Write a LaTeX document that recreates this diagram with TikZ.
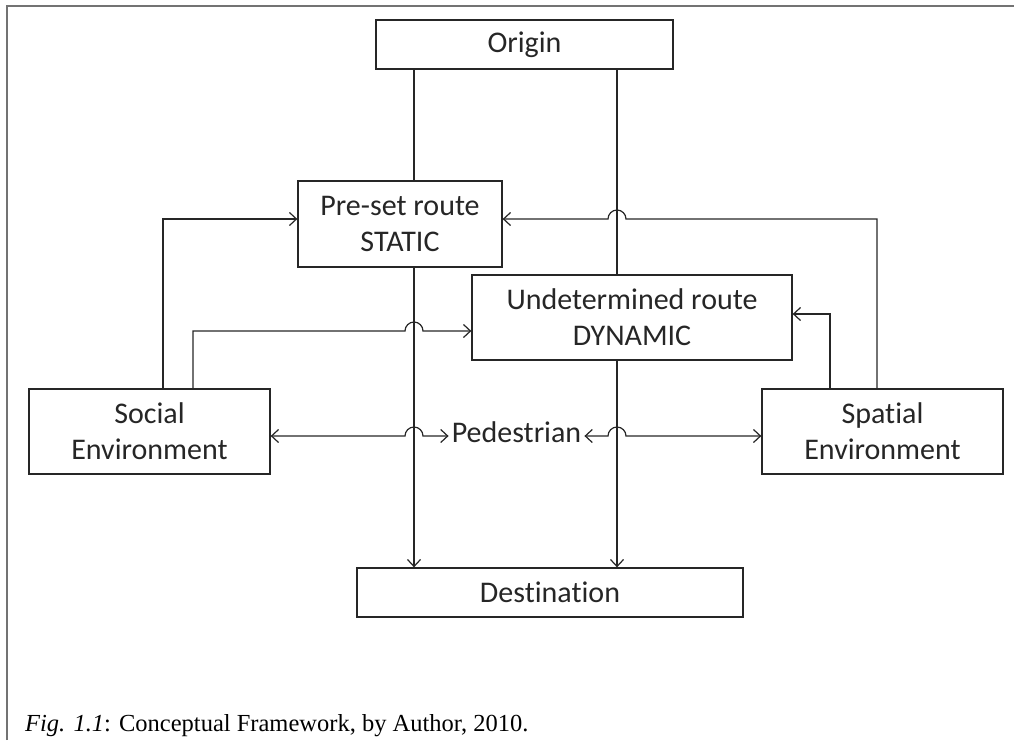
\documentclass[tikz,border=0pt]{standalone}
\usepackage{fontspec}
\setmainfont[Ligatures={NoCommon}]{Carlito}
\newfontfamily\capfont{Liberation Serif}
\usetikzlibrary{arrows.meta,calc}
\colorlet{ink}{black!85}
\newcommand\bxfont{\fontsize{30}{36}\selectfont}
\begin{document}
\begin{tikzpicture}[x=1pt,y=1pt,
  box/.style={draw=ink, line width=1.3pt, inner sep=0pt, align=center, font=\bxfont, text=ink},
  conn/.style={draw=ink, line width=1.2pt},
  >={Straight Barb[length=7pt,width=13pt]}]
\useasboundingbox (0,0) rectangle (1014,-740);
% frame (top and left edges)
\draw[black!55, line width=2pt] (7,-740) -- (7,-6) -- (1014,-6);
% nodes
\node[box, minimum width=297pt, minimum height=49pt] (origin) at (524.5,-44.5) {Origin};
\node[box, minimum width=204pt, minimum height=86pt] (preset) at (400,-224) {Pre-set route\\STATIC};
\node[box, minimum width=320pt, minimum height=85pt] (undet) at (632,-317.5) {Undetermined route\\DYNAMIC};
\node[box, minimum width=241pt, minimum height=85pt] (social) at (149.5,-431.5) {Social\\Environment};
\node[box, minimum width=241pt, minimum height=85pt] (spatial) at (882.5,-431.5) {Spatial\\Environment};
\node[font=\bxfont, text=ink, inner xsep=3pt, inner ysep=0pt, anchor=base] (ped) at (516.5,-442) {Pedestrian};
\node[box, minimum width=386pt, minimum height=49pt] (dest) at (550,-592.5) {Destination};
\node[anchor=base west, inner sep=0pt, text=black, font=\capfont\fontsize{24.5}{28}\selectfont] (caption) at (25,-731) {\textit{Fig. 1.1}: Conceptual Framework, by Author, 2010.};
% helper coordinates
\coordinate (cA) at (414,0);
\coordinate (cB) at (617,0);
\coordinate (sL1) at (163,0);
\coordinate (sL2) at (193,0);
\coordinate (sR1) at (877,0);
\coordinate (sR2) at (830,0);
\coordinate (rP) at (0,-219);
\coordinate (rUL) at (0,-331);
\coordinate (rUR) at (0,-314);
\coordinate (row) at (0,-436);
% vertical flows
\draw[conn] (origin.south -| cA) -- (preset.north -| cA);
\draw[conn,->] (preset.south -| cA) -- (dest.north -| cA);
\draw[conn] (origin.south -| cB) -- (undet.north -| cB);
\draw[conn,->] (undet.south -| cB) -- (dest.north -| cB);
% social environment links
\draw[conn,->] (social.north -| sL1) |- (preset.west |- rP);
\draw[conn,->] (social.north -| sL2) -- (sL2 |- rUL) -- ($(cA |- rUL)+(-9,0)$)
  arc[start angle=180,end angle=0,radius=9pt] -- (undet.west |- rUL);
% spatial environment links
\draw[conn,->] (spatial.north -| sR1) -- (sR1 |- rP) -- ($(cB |- rP)+(9,0)$)
  arc[start angle=0,end angle=180,radius=9pt] -- (preset.east |- rP);
\draw[conn,->] (spatial.north -| sR2) |- (undet.east |- rUR);
% pedestrian links
\draw[conn,<->] (social.east |- row) -- ($(cA |- row)+(-9,0)$)
  arc[start angle=180,end angle=0,radius=9pt] -- (ped.west |- row);
\draw[conn,<->] (ped.east |- row) -- ($(cB |- row)+(-9,0)$)
  arc[start angle=180,end angle=0,radius=9pt] -- (spatial.west |- row);
\end{tikzpicture}
\end{document}
